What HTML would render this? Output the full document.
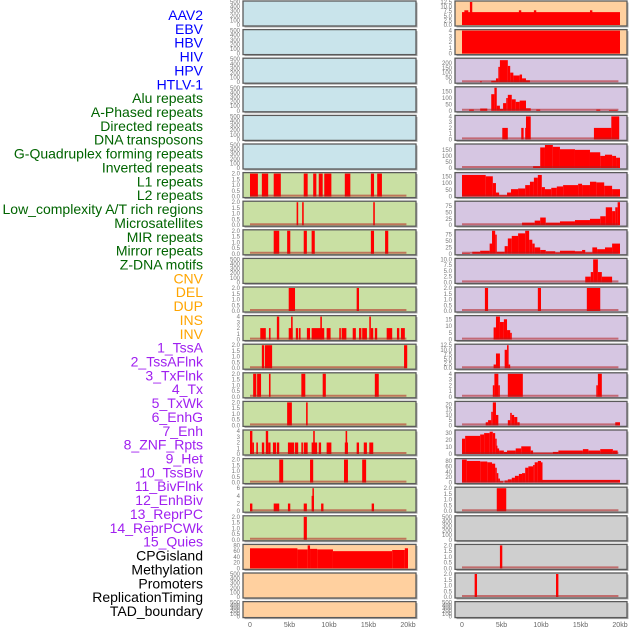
<!DOCTYPE html>
<html><head><meta charset="utf-8"><style>
body{margin:0;background:#fff;width:630px;height:630px;overflow:hidden}
svg{display:block;font-family:"Liberation Sans",sans-serif}
</style></head><body>
<svg id="c" width="630" height="630" viewBox="0 0 630 630"></svg>
<script>
const labels=["AAV2","EBV","HBV","HIV","HPV","HTLV-1","Alu repeats","A-Phased repeats","Directed repeats","DNA transposons","G-Quadruplex forming repeats","Inverted repeats","L1 repeats","L2 repeats","Low_complexity A/T rich regions","Microsatellites","MIR repeats","Mirror repeats","Z-DNA motifs","CNV","DEL","DUP","INS","INV","1_TssA","2_TssAFlnk","3_TxFlnk","4_Tx","5_TxWk","6_EnhG","7_Enh","8_ZNF_Rpts","9_Het","10_TssBiv","11_BivFlnk","12_EnhBiv","13_ReprPC","14_ReprPCWk","15_Quies","CPGisland","Methylation","Promoters","ReplicationTiming","TAD_boundary"];
const labelColors=["#0000ff","#0000ff","#0000ff","#0000ff","#0000ff","#0000ff","#006400","#006400","#006400","#006400","#006400","#006400","#006400","#006400","#006400","#006400","#006400","#006400","#006400","#ffa500","#ffa500","#ffa500","#ffa500","#ffa500","#a020f0","#a020f0","#a020f0","#a020f0","#a020f0","#a020f0","#a020f0","#a020f0","#a020f0","#a020f0","#a020f0","#a020f0","#a020f0","#a020f0","#a020f0","#000","#000","#000","#000","#000"];
const xTicks=[0,5,10,15,20];
const xTickLabels=["0","5kb","10kb","15kb","20kb"];
const leftBg=["b","b","b","b","b","b","g","g","g","g","g","g","g","g","g","g","g","g","g","o","o","o"];
const rightBg=["o","o","p","p","p","p","p","p","p","p","p","p","p","p","p","p","p","y","y","y","y","y"];
const leftMax=[500,500,500,500,500,500,2,2,2,500,2,4,2,2,2,4,2,6,2,80,500,500];
const rightMax=[12.5,4,240,180,4,190,170,90,90,10,2,17,12.5,4,22,33,85,2,500,2,2,500];
const leftTicks=[[0,100,200,300,400,500],[0,100,200,300,400,500],[0,100,200,300,400,500],[0,100,200,300,400,500],[0,100,200,300,400,500],[0,100,200,300,400,500],[0,0.5,1,1.5,2],[0,0.5,1,1.5,2],[0,0.5,1,1.5,2],[0,100,200,300,400,500],[0,0.5,1,1.5,2],[0,1,2,3,4],[0,0.5,1,1.5,2],[0,0.5,1,1.5,2],[0,0.5,1,1.5,2],[0,1,2,3,4],[0,0.5,1,1.5,2],[0,2,4,6],[0,0.5,1,1.5,2],[0,20,40,60,80],[0,100,200,300,400,500],[0,100,200,300,400,500]];
const rightTicks=[[0,2.5,5,7.5,10,12.5],[0,1,2,3,4],[0,50,100,150,200],[0,50,100,150],[0,1,2,3,4],[0,50,100,150],[0,50,100,150],[0,25,50,75],[0,25,50,75],[0,2.5,5,7.5,10],[0,0.5,1,1.5,2],[0,5,10,15],[0,2.5,5,7.5,10,12.5],[0,1,2,3,4],[0,5,10,15,20],[0,10,20,30],[0,20,40,60,80],[0,0.5,1,1.5,2],[0,100,200,300,400,500],[0,0.5,1,1.5,2],[0,0.5,1,1.5,2],[0,100,200,300,400,500]];
// segments: [startKb, endKb, value]
const leftSegs=[[],[],[],[],[],[],
[[0,1,2],[1.5,2.3,2],[3,3.9,2],[6.8,7.3,2],[8,8.4,2],[8.7,9.2,2],[9.4,10.3,2],[12,12.7,2],[15.3,15.7,2],[16.1,16.7,2]],
[[5.9,6.1,2],[6.6,6.8,2],[15.6,15.8,2]],
[[3,3.7,2],[4.7,5.1,2],[6.8,7.2,2],[7.8,8.2,2],[15.3,15.7,2],[17.1,17.5,2]],
[],
[[4.9,5.7,2],[13.5,13.8,2]],
[[1.3,2,2],[2.4,2.6,2],[3.4,3.7,4],[4.9,5.4,2],[5.2,5.4,4],[5.8,6.1,2],[6.2,6.4,2],[7.2,7.6,2],[7.8,9.4,2],[8.9,9.1,4],[9.7,10.2,2],[11.3,11.5,2],[11.6,12.2,2],[13,13.4,2],[13.8,14.1,2],[14.2,14.8,2],[15.1,15.3,4],[15.3,15.6,2],[15.8,16.1,2],[17.3,18,2],[18.6,18.9,2],[19.1,19.6,2]],
[[1.5,1.8,2],[1.9,2.8,2],[19.5,19.9,2]],
[[0.4,0.8,2],[0.9,1.4,2],[2.4,2.6,2],[6.5,7,2],[9.2,9.6,2],[15.8,16.3,2]],
[[4.7,5.3,2],[7.1,7.3,2]],
[[0,0.3,4],[0.3,0.5,2],[0.8,1,2],[1.5,1.8,2],[2,2.3,4],[2.3,2.6,2],[2.9,3.3,2],[3.4,3.7,2],[4.8,5.6,2],[5.7,6.1,2],[6.5,6.7,2],[6.8,7.3,2],[7.8,8.5,2],[8,8.2,4],[8.7,9,2],[9.7,10.3,2],[12,12.4,2],[12.1,12.3,4],[13.5,13.8,2],[14.4,14.8,2],[15.1,15.6,2]],
[[3.7,4.2,2],[7.6,8,2],[11.9,12.4,2],[14.2,14.7,2]],
[[0,0.3,2],[3,3.7,2],[4.8,5.1,2],[6.8,7.2,2],[7.8,8.1,4],[7.9,8,6],[9,9.3,2],[15.4,15.7,2]],
[[6.8,7.2,2]],
[[0,6,70],[6,7.3,66],[7.3,7.6,80],[7.6,8.5,68],[8.5,10.5,66],[10.5,18,60],[18,19.6,64],[19.6,20,70]],
[],[]];
const rightSegs=[
[[0,20,7],[0.3,0.8,8],[1,1.3,12.5],[7.2,7.5,8],[9.1,9.4,8],[16.2,16.5,8]],
[[0,20,4]],
[[2.3,2.5,10],[3.7,4.3,15],[4.3,4.6,40],[4.6,4.8,160],[4.8,5.8,230],[5.8,6.1,170],[6.1,6.5,100],[6.5,7.3,70],[7.3,7.6,80],[7.6,8.1,40],[8.1,8.6,20]],
[[0.9,1.5,10],[2.3,3.2,18],[3.7,4.1,130],[4.1,4.4,180],[4.4,4.8,40],[4.8,5.2,15],[5.2,5.6,60],[5.6,5.8,100],[5.8,6.3,125],[6.3,6.8,90],[6.8,7.3,70],[7.3,8.1,80],[8.1,8.7,20],[9.4,9.9,10],[17,17.5,10],[18.6,19.7,5]],
[[5.1,5.8,2],[7.5,7.8,2],[8,8.1,2],[8.1,8.7,4],[16.7,18.9,2],[18.9,19.9,4]],
[[9,9.9,15],[9.9,10.5,170],[10.5,11.5,190],[11.5,12.4,175],[12.4,14.3,155],[14.3,16.2,150],[16.2,17.5,130],[17.5,18.1,100],[18.1,19,110],[19,19.5,100],[19.5,20,85]],
[[0,3,160],[3,3.9,150],[3.9,4.3,100],[4.3,4.7,30],[4.7,5.7,10],[5.7,6.2,30],[6.2,7.1,55],[7.1,8,60],[8,8.6,85],[8.6,9.1,110],[9.1,9.6,140],[9.6,10.1,160],[10.1,10.5,70],[10.5,11.3,55],[11.3,12,65],[12,12.8,75],[12.8,14.7,85],[14.7,15.2,95],[15.2,16.2,85],[16.2,17,110],[17,18,105],[18,19,80],[19,20,55]],
[[7.6,9.2,10],[9.2,9.9,18],[9.9,10.6,30],[10.6,12.4,10],[12.4,14.3,15],[14.3,16.2,20],[16.2,17.5,25],[17.5,18.2,35],[18.2,19,70],[19,19.4,55],[19.4,19.7,70],[19.7,20,90]],
[[0,1,2],[1.3,2.3,8],[2.3,3.5,12],[3.5,3.8,40],[3.8,4.2,90],[4.2,4.4,75],[4.4,5.4,8],[5.4,5.8,30],[5.8,6.3,60],[6.3,7.1,70],[7.1,8,80],[8,8.5,90],[8.5,8.9,55],[8.9,9.2,40],[9.2,9.9,25],[9.9,10.6,15],[10.6,11.8,10],[11.8,12.4,5],[12.4,14.3,12],[14.3,15.2,10],[15.2,15.6,15],[15.6,16.5,5],[16.5,17.1,25],[17.1,18.1,18],[18.1,19,25],[19,20,40]],
[[15.6,16.3,2.5],[16.3,16.6,4.5],[16.6,17.2,10],[17.2,17.7,4.5],[17.7,19,2.5]],
[[2.9,3.3,2],[9.6,10,2],[15.8,17.5,2]],
[[4,4.3,9],[4.3,4.8,17],[4.8,5.3,13],[5.3,5.7,15],[5.7,6.1,7],[6.1,6.3,5]],
[[4,4.3,2],[4.3,4.8,8],[5.4,5.7,10],[5.7,5.9,12.5],[5.9,6.1,2]],
[[3.9,4.1,2],[4.1,4.6,4],[4.6,4.7,2],[5.8,7.7,4],[17,17.2,2],[17.2,17.7,4]],
[[3,3.3,3],[3.3,3.7,5],[3.7,3.9,13],[3.9,4.3,22],[4.3,4.6,10],[5.8,6.1,5],[6.1,6.3,12],[6.3,6.6,10],[6.6,7,8],[7,7.3,3],[19.4,20,3]],
[[0,0.4,22],[0.4,2.3,26],[2.3,2.8,28],[2.8,3.5,30],[3.5,3.9,32],[3.9,4.2,30],[4.2,4.3,22],[4.3,4.4,12],[4.4,4.7,8],[4.7,5.3,5],[5.3,5.7,3],[5.7,6.8,5],[6.8,7.5,8],[7.5,8.7,11],[8.7,9,5],[9,11.5,1],[11.5,12.2,3],[12.2,15.3,5],[15.3,16,7],[16,17.5,5],[17.5,19.1,7],[19.1,19.7,5]],
[[0,0.6,85],[0.6,2.3,80],[2.3,3.2,78],[3.2,3.8,75],[3.8,4.2,70],[4.2,4.4,55],[4.4,4.6,35],[4.6,4.8,15],[4.8,5.2,5],[5.4,5.8,8],[5.8,6.3,12],[6.3,6.7,18],[6.7,7.2,25],[7.2,7.6,32],[7.6,8,35],[8,8.4,55],[8.4,9,60],[9,9.2,65],[9.2,9.6,75],[9.6,10,80],[10,10.1,75],[10.1,20,10]],
[[4.4,5.6,2]],
[],
[[4.8,5.1,2]],
[[1.6,1.9,2],[11.9,12.2,2]],
[]];
const bgColors={b:"#c9e4eb",g:"#c9e0a3",o:"#ffd09f",p:"#d6c6e2",y:"#cfcfcf"};
const NS="http://www.w3.org/2000/svg";
const svg=document.getElementById('c');
function mk(tag,attrs,parent){const e=document.createElementNS(NS,tag);for(const k in attrs)e.setAttribute(k,attrs[k]);(parent||svg).appendChild(e);return e;}
const colX=[{x0:243,x1:416,z:250,s:7.9},{x0:455,x1:627,z:462,s:7.9}];
function xScale(col,kb){return colX[col].z+kb*colX[col].s;}
function rowTop(i){return 1+i*28.6;}
function rowH(i){return i===21?16:25;}
function yScale(i,max,v){const t=rowTop(i),h=rowH(i);return t+h-1-(v/max)*(h-2);}
// labels
labels.forEach((l,i)=>{
  const t=mk('text',{x:203,y:20+i*13.86,'text-anchor':'end','font-size':14,fill:labelColors[i]});
  t.textContent=l;
  
  
});
function drawCol(col,bgs,maxes,ticks,segs){
  const c=colX[col];
  for(let i=0;i<22;i++){
    const g=mk('g',{});
    
    
    const t=rowTop(i),h=rowH(i);
    mk('rect',{x:c.x0+1.5,y:t+1.5,width:c.x1-c.x0,height:h,fill:'#aaa'},g);
    mk('rect',{x:c.x0,y:t,width:c.x1-c.x0,height:h,fill:bgColors[bgs[i]],stroke:'#5a5a5a','stroke-width':1.3},g);
    const max=maxes[i];
    segs[i].forEach(s=>{
      const x1=xScale(col,s[0]),x2=xScale(col,s[1]);
      const y=yScale(i,max,s[2]);
      const r=mk('rect',{x:x1,y:y,width:Math.max(1.5,x2-x1),height:t+h-1-y,fill:'#ff0000'},g);
      
      
    });
    if(segs[i].length&&bgs[i]!=='o'){
      mk('line',{x1:xScale(col,0),x2:xScale(col,19.8),y1:t+h-2,y2:t+h-2,stroke:'rgba(180,30,30,0.55)','stroke-width':2},g);
    }
    ticks[i].forEach(v=>{
      const tx=mk('text',{x:c.x0-3,y:yScale(i,max,v)+2,'text-anchor':'end','font-size':6,fill:'#777'},g);
      tx.textContent=(max<=12.5&&max!==4&&max!==6&&max!==10)||max===12.5||max===10||max===2?(Number.isInteger(v)&&max>2&&max!==12.5&&max!==10?String(v):v.toFixed(1)):String(v);
      
      
    });
  }
  xTicks.forEach((v,k)=>{
    const tx=mk('text',{x:xScale(col,v),y:627,'text-anchor':'middle','font-size':7,fill:'#666'});
    tx.textContent=xTickLabels[k];
    
    
  });
}
drawCol(0,leftBg,leftMax,leftTicks,leftSegs);
drawCol(1,rightBg,rightMax,rightTicks,rightSegs);
</script>
</body></html>
